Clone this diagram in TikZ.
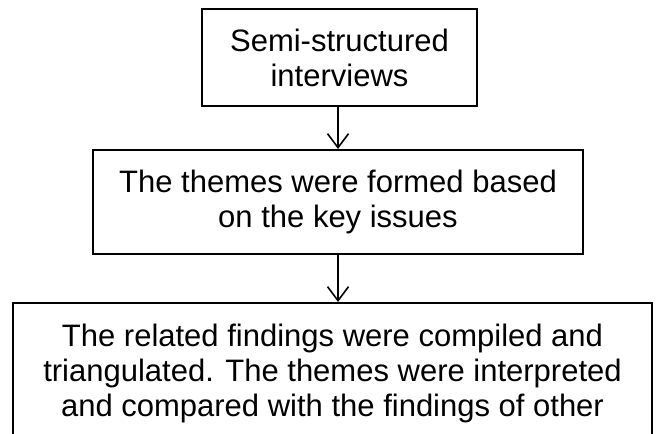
\documentclass[tikz,border=0pt]{standalone}
\usepackage{fontspec}
\setmainfont{Liberation Sans}
\usetikzlibrary{arrows.meta}
\begin{document}
\begin{tikzpicture}[x=1bp,y=-1bp,
  box/.style={draw,line width=2bp,align=center,inner sep=0pt,font=\fontsize{31bp}{35bp}\selectfont},
  flow/.style={line width=1.6bp,-{Straight Barb[length=14bp,width=21bp]}}]
\useasboundingbox (0,0) rectangle (657,434);
\clip (0,0) rectangle (657,434);
\node[box,minimum width=275bp,minimum height=97bp] (si) at (339.5,57.5) {Semi-structured\\interviews};
\node[box,minimum width=490bp,minimum height=104bp] (th) at (338,202) {The themes were formed based\\on the key issues};
\node[box,anchor=north,minimum width=639bp,inner ysep=21bp,text depth=200bp] (rf) at (332.5,302)
  {The related findings were compiled and\\triangulated. The themes were interpreted\\and compared with the findings of other};
\draw[flow] (th.north |- si.south) -- (th.north);
\draw[flow] (th.south) -- (th.south |- rf.north);
\end{tikzpicture}
\end{document}
